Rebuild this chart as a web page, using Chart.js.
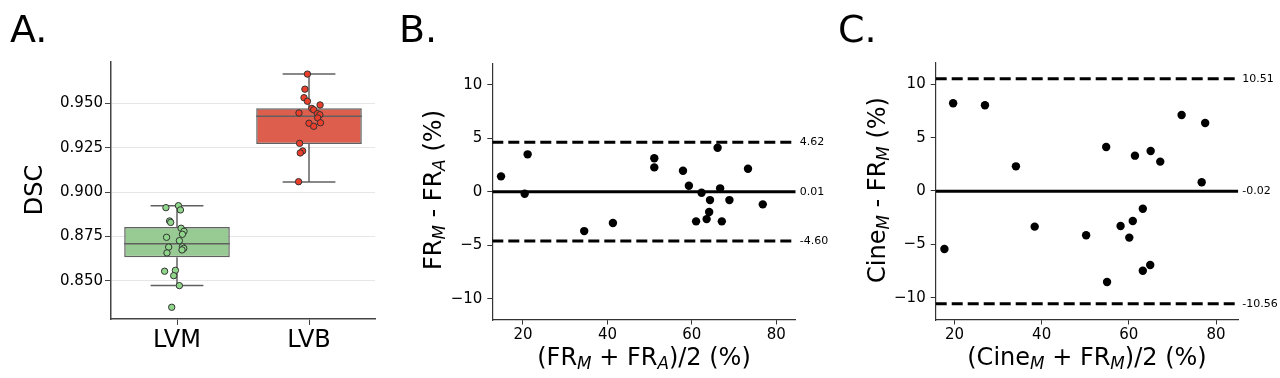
<!DOCTYPE html>
<html>
<head>
<meta charset="utf-8">
<script src="https://cdn.jsdelivr.net/npm/chart.js@4.4.0/dist/chart.umd.min.js"></script>
<style>
  body { margin: 0; background: #fff; }
  #fig { position: relative; width: 1280px; height: 378px; overflow: hidden; font-family: 'DejaVu Sans', sans-serif; color: #000; }
  #fig canvas { position: absolute; top: 0; }
  .lbl { position: absolute; line-height: 1; white-space: nowrap; }
  .panel { font-size: 38px; }
  .ttl { font-size: 24px; }
  .rot { transform: translate(-50%, -50%) rotate(-90deg); }
  .hor { transform: translateX(-50%); }
  sub { font-size: 70%; line-height: 0; vertical-align: -0.25em; font-style: italic; }
</style>
</head>
<body>
<div id="fig">
  <canvas id="chartA" width="400" height="378" style="left:0px"></canvas>
  <canvas id="chartB" width="440" height="378" style="left:400px"></canvas>
  <canvas id="chartC" width="440" height="378" style="left:840px"></canvas>

  <div class="lbl panel" style="left:10px;top:10px">A.</div>
  <div class="lbl panel" style="left:399px;top:10px">B.</div>
  <div class="lbl panel" style="left:838px;top:10px">C.</div>

  <div class="lbl ttl rot" style="left:34px;top:190px">DSC</div>
  <div class="lbl ttl rot" style="left:433px;top:190px">FR<sub>M</sub> - FR<sub>A</sub> (%)</div>
  <div class="lbl ttl rot" style="left:877px;top:190px">Cine<sub>M</sub> - FR<sub>M</sub> (%)</div>
  <div class="lbl ttl hor" style="left:644px;top:345px">(FR<sub>M</sub> + FR<sub>A</sub>)/2 (%)</div>
  <div class="lbl ttl hor" style="left:1087px;top:345px">(Cine<sub>M</sub> + FR<sub>M</sub>)/2 (%)</div>
</div>

<script>
// ---- panel A: DSC per structure ----
const groups = ['LVM', 'LVB'];
const dscTicks = [0.850, 0.875, 0.900, 0.925, 0.950];

// box stats: [lower whisker, q1, median, q3, upper whisker]
const lvmBox = [0.8474, 0.8633, 0.8710, 0.8804, 0.8924];
const lvbBox = [0.9058, 0.9271, 0.9427, 0.9472, 0.9665];

const lvmDsc = [0.8913, 0.8924, 0.8900, 0.8838, 0.8830, 0.8797, 0.8780, 0.8763, 0.8746, 0.8727,
                0.8693, 0.8684, 0.8675, 0.8691, 0.8658, 0.8555, 0.8560, 0.8530, 0.8474, 0.8352];
const lvmJitter = [-0.084, 0.011, 0.026, -0.056, -0.048, 0.031, 0.053, 0.041, -0.079, 0.018,
                   0.041, 0.051, 0.038, -0.063, -0.076, -0.094, -0.012, -0.025, 0.018, -0.040];
const lvbDsc = [0.9665, 0.9580, 0.9532, 0.9512, 0.9491, 0.9472, 0.9464, 0.9446, 0.9442, 0.9436,
                0.9418, 0.9391, 0.9388, 0.9371, 0.9275, 0.9232, 0.9221, 0.9059];
const lvbJitter = [-0.012, -0.031, -0.038, -0.012, 0.084, 0.021, 0.036, -0.076, 0.064, 0.082,
                   0.066, 0.087, 0.000, 0.036, -0.071, -0.048, -0.066, -0.079];

// ---- panel B: FR_M vs FR_A ----
const meanB = [14.8, 21.1, 20.4, 34.5, 41.3, 51.1, 51.1, 57.9, 59.3, 62.3,
               61.0, 63.5, 64.1, 64.3, 66.1, 66.7, 67.1, 68.9, 73.3, 76.8];
const diffB = [1.44, 3.50, -0.19, -3.68, -2.93, 3.13, 2.28, 1.97, 0.56, -0.09,
               -2.77, -2.56, -1.90, -0.78, 4.12, 0.32, -2.77, -0.78, 2.15, -1.18];
const biasB = 0.01;
const limitsB = [4.62, -4.60];

// ---- panel C: Cine_M vs FR_M ----
const meanC = [17.7, 19.7, 27.0, 34.1, 38.4, 50.2, 54.8, 55.0, 58.1, 60.1,
               60.9, 61.4, 63.2, 63.2, 65.0, 64.9, 67.2, 72.1, 76.7, 77.5];
const diffC = [-5.44, 8.22, 8.03, 2.31, -3.34, -4.15, 4.12, -8.53, -3.28, -4.37,
               -2.81, 3.31, -1.66, -7.47, 3.75, -6.94, 2.75, 7.12, 0.82, 6.37];
const biasC = -0.02;
const limitsC = [10.51, -10.56];

const xTicksBA = [20, 40, 60, 80];
const yTicksBA = [-10, -5, 0, 5, 10];

Chart.defaults.font.family = "'DejaVu Sans', sans-serif";
Chart.defaults.color = '#000';
Chart.defaults.animation = false;
Chart.defaults.plugins.legend.display = false;
Chart.defaults.plugins.tooltip.enabled = false;

const minus = v => (v < 0 ? '\u2212' + Math.abs(v) : String(v));
const setTicks = vals => scale => { scale.ticks = vals.map(v => ({ value: v })); };

// box plot pieces as line segments
function boxLines(g, s) {
  const seg = (x0, y0, x1, y1) => ({
    type: 'line', data: [{ x: x0, y: y0 }, { x: x1, y: y1 }],
    borderColor: '#606060', borderWidth: 1.5, pointRadius: 0, order: 1
  });
  return [
    seg(g - 0.2, s[0], g + 0.2, s[0]),
    seg(g, s[0], g, s[1]),
    seg(g, s[3], g, s[4]),
    seg(g - 0.2, s[4], g + 0.2, s[4]),
    seg(g - 0.4, s[2], g + 0.4, s[2])
  ];
}

new Chart(document.getElementById('chartA'), {
  type: 'bar',
  data: {
    datasets: [
      {
        type: 'scatter', order: 0,
        data: lvmDsc.map((v, i) => ({ x: 0 + lvmJitter[i], y: v })),
        pointRadius: 3.2, pointBackgroundColor: '#8fd68a', pointBorderColor: '#333', pointBorderWidth: 1
      },
      {
        type: 'scatter', order: 0,
        data: lvbDsc.map((v, i) => ({ x: 1 + lvbJitter[i], y: v })),
        pointRadius: 3.2, pointBackgroundColor: '#ec3f2b', pointBorderColor: '#333', pointBorderWidth: 1
      },
      ...boxLines(0, lvmBox),
      ...boxLines(1, lvbBox),
      {
        type: 'bar', order: 2,
        data: [{ x: 0, y: [lvmBox[1], lvmBox[3]] }, { x: 1, y: [lvbBox[1], lvbBox[3]] }],
        backgroundColor: ['#98ca94', '#dd5e4c'],
        borderColor: '#606060', borderWidth: 1.5, borderSkipped: false,
        categoryPercentage: 1, barPercentage: 0.8
      }
    ]
  },
  options: {
    responsive: false,
    layout: { padding: { top: 62, right: 25, left: 0, bottom: 0 } },
    scales: {
      x: {
        type: 'linear', min: -0.5, max: 1.5, offset: false,
        afterFit: s => { s.height = 59; },
        afterBuildTicks: setTicks([0, 1]),
        ticks: { callback: v => groups[v], font: { size: 24 }, padding: 1 },
        grid: { drawOnChartArea: false, offset: false, tickLength: 6, tickColor: '#444' },
        border: { color: '#444', width: 1.5 }
      },
      y: {
        min: 0.8286, max: 0.9733,
        afterFit: s => { s.width = 111; },
        afterBuildTicks: setTicks(dscTicks),
        ticks: { callback: v => v.toFixed(3), font: { size: 15 }, padding: 2 },
        grid: { color: '#e6e6e6', tickLength: 6, tickColor: '#444' },
        border: { color: '#444', width: 1.5 }
      }
    }
  }
});

function blandAltman(id, xs, ys, bias, limits, xRange, yRange, area) {
  const hline = (v, dash) => ({
    type: 'line', order: 1,
    data: [{ x: xRange[0], y: v }, { x: xRange[1], y: v }],
    borderColor: '#000', borderWidth: 3, borderDash: dash, pointRadius: 0
  });
  new Chart(document.getElementById(id), {
    type: 'scatter',
    data: {
      datasets: [
        {
          order: 0,
          data: xs.map((x, i) => ({ x: x, y: ys[i] })),
          pointRadius: 4.2, pointBackgroundColor: '#000', pointBorderColor: '#000', pointBorderWidth: 0
        },
        hline(bias, []),
        hline(limits[0], [11, 5]),
        hline(limits[1], [11, 5])
      ]
    },
    options: {
      responsive: false,
      layout: { padding: { top: area.top, right: 0, left: 0, bottom: 0 } },
      scales: {
        x: {
          type: 'linear', min: xRange[0], max: xRange[1],
          afterFit: s => { s.height = 378 - area.bottom; },
          afterBuildTicks: setTicks(xTicksBA),
          ticks: { callback: minus, font: { size: 15 }, padding: 2 },
          grid: { drawOnChartArea: false, tickLength: 4.5, tickColor: '#333' },
          border: { color: '#333', width: 1.2 }
        },
        y: {
          min: yRange[0], max: yRange[1],
          afterFit: s => { s.width = area.left; },
          afterBuildTicks: setTicks(yTicksBA),
          ticks: { callback: minus, font: { size: 15 }, padding: 5 },
          grid: { drawOnChartArea: false, tickLength: 5, tickColor: '#333' },
          border: { color: '#333', width: 1.2 }
        },
        yRight: {
          position: 'right', min: yRange[0], max: yRange[1],
          afterFit: s => { s.width = 440 - area.right; },
          afterBuildTicks: setTicks([limits[0], bias, limits[1]]),
          ticks: { callback: v => v.toFixed(2), font: { size: 11 }, padding: 4 },
          grid: { display: false, drawTicks: false, tickLength: 0 },
          border: { display: false }
        }
      }
    }
  });
}

blandAltman('chartB', meanB, diffB, biasB, limitsB, [12.73, 84.6], [-12, 12],
  { left: 92.3, right: 395.7, top: 63.5, bottom: 320 });
blandAltman('chartC', meanC, diffC, biasC, limitsC, [15.7, 85.1], [-12.09, 12.06],
  { left: 95.7, right: 398.3, top: 62.3, bottom: 320 });
</script>
</body>
</html>
